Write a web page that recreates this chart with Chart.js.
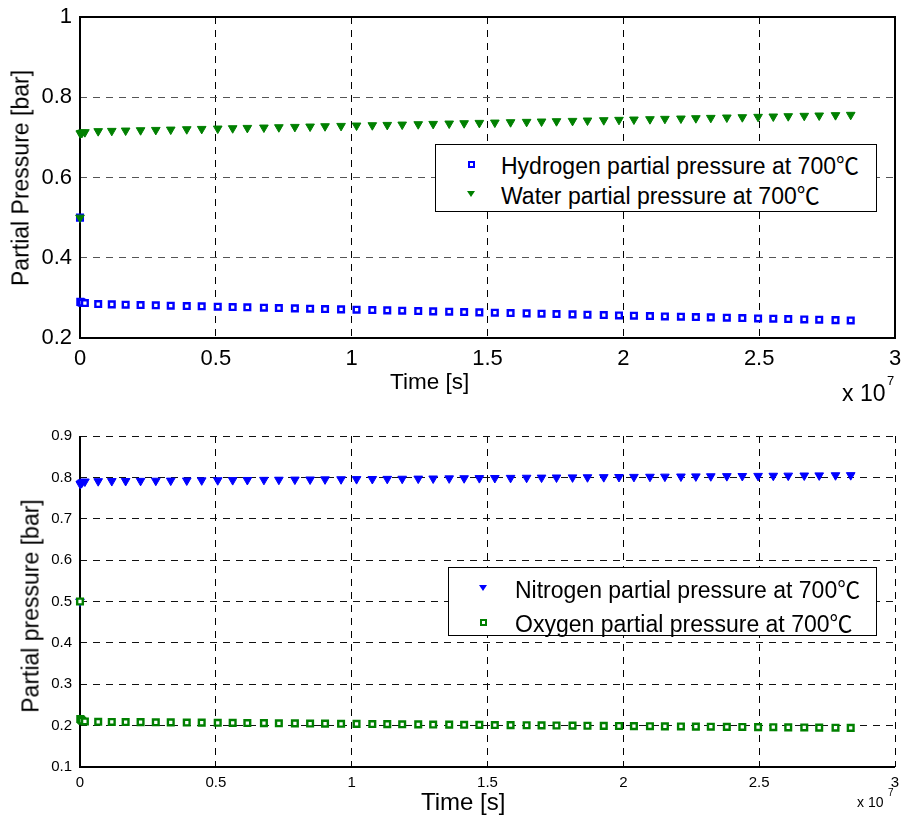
<!DOCTYPE html>
<html lang="en">
<head>
<meta charset="UTF-8">
<title>Partial pressures at 700℃</title>
<style>
  body { margin: 0; background: #fff; }
  .page { position: relative; width: 902px; height: 818px; overflow: hidden;
          font-family: "Liberation Sans", Arial, sans-serif; color: #000; }
  .page canvas { position: absolute; left: 0; }
  #topChart { top: 0; }
  #bottomChart { top: 409px; }
  .lbl { position: absolute; white-space: nowrap; line-height: 1; }
  .ylbl { transform: translate(-50%, -50%) rotate(-90deg); }
  .legend { position: absolute; background: #fff; border: 1px solid #000; box-sizing: border-box; }
  .legend .row { position: absolute; left: 0; height: 30px; line-height: 30px; white-space: nowrap; }
  .legend .txt { position: absolute; top: 0; }
  .deg { font-family: "Noto Sans CJK SC", "DejaVu Sans", sans-serif; }
  .mk { position: absolute; }
  .sq { width: 7px; height: 7px; box-sizing: border-box; border: 2px solid; background: #fff; margin: -3.5px 0 0 -3.5px; top: 15px; }
  .tri { width: 0; height: 0; border-left: 4px solid transparent; border-right: 4px solid transparent;
         border-top: 6px solid; margin: -3px 0 0 -4px; top: 15px; }
</style>
</head>
<body>
<div class="page">
  <canvas id="topChart" width="902" height="409"></canvas>
  <canvas id="bottomChart" width="902" height="409"></canvas>

  <div class="lbl ylbl" style="left:21px; top:178px; font-size:23px;">Partial Pressure [bar]</div>
  <div class="lbl" style="left:390px; top:371px; font-size:22.5px;">Time [s]</div>
  <div class="lbl" style="left:842px; top:382px; font-size:23px;">x 10</div>
  <div class="lbl" style="left:887px; top:374px; font-size:13px;">7</div>

  <div class="lbl ylbl" style="left:31px; top:606px; font-size:23px;">Partial pressure [bar]</div>
  <div class="lbl" style="left:421px; top:790px; font-size:24px;">Time [s]</div>
  <div class="lbl" style="left:857px; top:795px; font-size:14px;">x 10</div>
  <div class="lbl" style="left:888px; top:788px; font-size:10px;">7</div>

  <div class="legend" style="left:435px; top:144px; width:442px; height:68px; font-size:23px;">
    <div class="row" style="top:4px;"><span class="mk sq" style="left:35px; border-color:#0000ff;"></span><span class="txt" style="left:65px;">Hydrogen partial pressure at 700<span class="deg">℃</span></span></div>
    <div class="row" style="top:34px;"><span class="mk tri" style="left:35px; border-top-color:#008000;"></span><span class="txt" style="left:65px;">Water partial pressure at 700<span class="deg">℃</span></span></div>
  </div>
  <div class="legend" style="left:448px; top:567px; width:429px; height:69px; font-size:23px;">
    <div class="row" style="top:5px;"><span class="mk tri" style="left:34px; border-top-color:#0000ff;"></span><span class="txt" style="left:66px;">Nitrogen partial pressure at 700<span class="deg">℃</span></span></div>
    <div class="row" style="top:39px;"><span class="mk sq" style="left:34px; border-color:#008000;"></span><span class="txt" style="left:66px;">Oxygen partial pressure at 700<span class="deg">℃</span></span></div>
  </div>
</div>

<script src="https://cdn.jsdelivr.net/npm/chart.js"></script>
<script>
// time in units of 1e7 s (axis shows "x 10^7")
const time = [0, 0.001, 0.004, 0.008, 0.018, 0.067, 0.117, 0.168, 0.223, 0.279, 0.334, 0.393, 0.448,
  0.507, 0.562, 0.616, 0.677, 0.732, 0.791, 0.847, 0.902, 0.961, 1.018, 1.076, 1.131, 1.186, 1.245,
  1.300, 1.359, 1.414, 1.470, 1.527, 1.585, 1.644, 1.699, 1.754, 1.813, 1.868, 1.928, 1.984, 2.039,
  2.098, 2.153, 2.212, 2.267, 2.322, 2.381, 2.438, 2.496, 2.552, 2.607, 2.666, 2.721, 2.781, 2.837];

const hydrogen = [0.5, 0.290, 0.289, 0.288, 0.287, 0.2845, 0.2838, 0.2830, 0.2822, 0.2814, 0.2806,
  0.2797, 0.2789, 0.2780, 0.2772, 0.2764, 0.2755, 0.2747, 0.2739, 0.2730, 0.2722, 0.2714, 0.2705,
  0.2697, 0.2689, 0.2681, 0.2672, 0.2664, 0.2655, 0.2647, 0.2639, 0.2631, 0.2622, 0.2613, 0.2605,
  0.2597, 0.2589, 0.2580, 0.2572, 0.2563, 0.2555, 0.2547, 0.2538, 0.2530, 0.2522, 0.2514, 0.2505,
  0.2497, 0.2488, 0.2480, 0.2472, 0.2463, 0.2455, 0.2446, 0.2438];

const water = [0.5, 0.710, 0.711, 0.712, 0.713, 0.7155, 0.7162, 0.7170, 0.7178, 0.7186, 0.7194,
  0.7203, 0.7211, 0.7220, 0.7228, 0.7236, 0.7245, 0.7253, 0.7261, 0.7270, 0.7278, 0.7286, 0.7295,
  0.7303, 0.7311, 0.7319, 0.7328, 0.7336, 0.7345, 0.7353, 0.7361, 0.7369, 0.7378, 0.7387, 0.7395,
  0.7403, 0.7411, 0.7420, 0.7428, 0.7437, 0.7445, 0.7453, 0.7462, 0.7470, 0.7478, 0.7486, 0.7495,
  0.7503, 0.7512, 0.7520, 0.7528, 0.7537, 0.7545, 0.7554, 0.7562];

const nitrogen = [0.5, 0.784, 0.786, 0.788, 0.790, 0.7908, 0.7911, 0.7913, 0.7916, 0.7919, 0.7922,
  0.7925, 0.7928, 0.7931, 0.7934, 0.7937, 0.7940, 0.7943, 0.7946, 0.7949, 0.7952, 0.7955, 0.7958,
  0.7961, 0.7964, 0.7967, 0.7970, 0.7973, 0.7976, 0.7979, 0.7982, 0.7985, 0.7988, 0.7991, 0.7994,
  0.7997, 0.8000, 0.8003, 0.8006, 0.8009, 0.8012, 0.8015, 0.8018, 0.8021, 0.8024, 0.8027, 0.8030,
  0.8033, 0.8036, 0.8039, 0.8042, 0.8045, 0.8048, 0.8051, 0.8054];

const oxygen = [0.5, 0.216, 0.214, 0.212, 0.210, 0.2092, 0.2089, 0.2087, 0.2084, 0.2081, 0.2078,
  0.2075, 0.2072, 0.2069, 0.2066, 0.2063, 0.2060, 0.2057, 0.2054, 0.2051, 0.2048, 0.2045, 0.2042,
  0.2039, 0.2036, 0.2033, 0.2030, 0.2027, 0.2024, 0.2021, 0.2018, 0.2015, 0.2012, 0.2009, 0.2006,
  0.2003, 0.2000, 0.1997, 0.1994, 0.1991, 0.1988, 0.1985, 0.1982, 0.1979, 0.1976, 0.1973, 0.1970,
  0.1967, 0.1964, 0.1961, 0.1958, 0.1955, 0.1952, 0.1949, 0.1946];

const FONT = '"Liberation Sans", Arial, sans-serif';
Chart.defaults.font.family = FONT;
Chart.defaults.color = '#000';

const pts = (xs, ys) => xs.map((x, i) => ({x: x, y: ys[i]}));
const plain = v => String(Math.round(v * 100) / 100);   // 1 not 1.0

// solid axis lines (full box on top plot, only left+bottom on lower plot)
const axesBox = {
  id: 'axesBox',
  beforeDatasetsDraw(chart, args, opts) {
    const {ctx, chartArea: a} = chart;
    ctx.save();
    ctx.strokeStyle = '#000';
    ctx.lineWidth = 2;
    ctx.beginPath();
    if (opts.full) {
      ctx.rect(a.left, a.top, a.right - a.left, a.bottom - a.top);
    } else {
      ctx.moveTo(a.left, a.top);
      ctx.lineTo(a.left, a.bottom);
      ctx.lineTo(a.right, a.bottom);
    }
    ctx.stroke();
    ctx.restore();
  }
};

function squares(color, label, data) {
  return { label, data, pointStyle: 'rect', pointRadius: 4, pointBorderWidth: 2.4,
           borderColor: color, backgroundColor: '#fff', showLine: false, clip: false };
}
function triangles(color, label, data) {
  return { label, data, pointStyle: 'triangle', pointRotation: 180, pointRadius: 5, pointBorderWidth: 1,
           borderColor: color, backgroundColor: color, showLine: false, clip: false };
}

function options(o) {
  return {
    responsive: false,
    animation: false,
    events: [],
    layout: { padding: { top: o.padTop, right: 7, left: 0, bottom: 0 } },
    plugins: { legend: { display: false }, tooltip: { enabled: false }, axesBox: { full: o.full } },
    scales: {
      x: {
        type: 'linear', min: 0, max: 3,
        afterFit: s => { s.height = o.xAxisH; s.paddingLeft = 0; s.paddingRight = 0; },
        ticks: { stepSize: 0.5, padding: o.xPad, maxRotation: 0, font: { size: o.tickSize }, callback: plain },
        grid: { color: '#000', lineWidth: 1, drawTicks: false },
        border: { display: false, dash: [7, 6] }
      },
      y: {
        type: 'linear', min: o.ymin, max: o.ymax,
        afterFit: s => { s.width = 80; s.paddingTop = 0; s.paddingBottom = 0; },
        ticks: { stepSize: o.ystep, padding: 8, font: { size: o.tickSize }, callback: plain },
        grid: { color: o.yGrid, lineWidth: 1, drawTicks: false },
        border: { display: false, dash: [7, 6] }
      }
    }
  };
}

new Chart(document.getElementById('topChart'), {
  type: 'scatter',
  data: {
    datasets: [
      triangles('#008000', 'Water partial pressure at 700℃', pts(time, water)),
      squares('#0000ff', 'Hydrogen partial pressure at 700℃', pts(time, hydrogen))
    ]
  },
  options: options({ padTop: 17, xAxisH: 71, xPad: 8, tickSize: 22, ymin: 0.2, ymax: 1, ystep: 0.2,
                     yGrid: '#555', full: true }),
  plugins: [axesBox]
});

new Chart(document.getElementById('bottomChart'), {
  type: 'scatter',
  data: {
    datasets: [
      squares('#008000', 'Oxygen partial pressure at 700℃', pts(time, oxygen)),
      triangles('#0000ff', 'Nitrogen partial pressure at 700℃', pts(time, nitrogen))
    ]
  },
  options: options({ padTop: 27, xAxisH: 51, xPad: 7, tickSize: 15, ymin: 0.1, ymax: 0.9, ystep: 0.1,
                     yGrid: '#111', full: false }),
  plugins: [axesBox]
});
</script>
</body>
</html>
